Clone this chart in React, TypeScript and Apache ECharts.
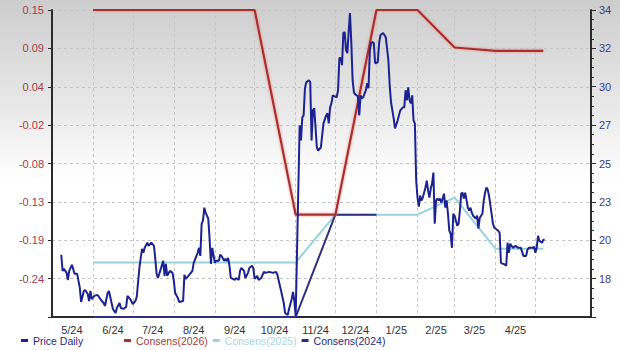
import React, { useEffect, useRef } from 'react';
import * as echarts from 'echarts';

const priceDates = [
  '2024-05-08','2024-05-09','2024-05-10','2024-05-12','2024-05-13','2024-05-14','2024-05-16','2024-05-17','2024-05-18','2024-05-20',
  '2024-05-21','2024-05-22','2024-05-23','2024-05-25','2024-05-26','2024-05-28','2024-05-29','2024-05-30','2024-05-31',
  '2024-06-02','2024-06-04','2024-06-05','2024-06-07','2024-06-09','2024-06-10','2024-06-12','2024-06-13','2024-06-15','2024-06-16',
  '2024-06-18','2024-06-19','2024-06-21','2024-06-22','2024-06-24','2024-06-26','2024-06-27','2024-06-29',
  '2024-07-01','2024-07-03','2024-07-04','2024-07-06','2024-07-07','2024-07-08','2024-07-09','2024-07-10','2024-07-12','2024-07-13',
  '2024-07-15','2024-07-17','2024-07-18','2024-07-19','2024-07-20','2024-07-21','2024-07-24','2024-07-25','2024-07-26','2024-07-27',
  '2024-07-29','2024-07-31',
  '2024-08-01','2024-08-02','2024-08-04','2024-08-05','2024-08-08','2024-08-09','2024-08-10','2024-08-12','2024-08-15','2024-08-16',
  '2024-08-19','2024-08-20','2024-08-21','2024-08-22','2024-08-23','2024-08-24','2024-08-25','2024-08-27','2024-08-28','2024-08-29',
  '2024-08-30',
  '2024-09-01','2024-09-02','2024-09-04','2024-09-05','2024-09-06','2024-09-08','2024-09-09','2024-09-10','2024-09-11','2024-09-12',
  '2024-09-13','2024-09-16','2024-09-17','2024-09-19','2024-09-20','2024-09-21','2024-09-23','2024-09-24','2024-09-26','2024-09-27',
  '2024-09-29','2024-09-30',
  '2024-10-01','2024-10-03','2024-10-04','2024-10-06','2024-10-08','2024-10-09','2024-10-12','2024-10-15','2024-10-17','2024-10-18',
  '2024-10-21','2024-10-23','2024-10-24','2024-10-26','2024-10-27','2024-10-29','2024-10-30','2024-10-31',
  '2024-11-01','2024-11-04','2024-11-05','2024-11-06','2024-11-07','2024-11-08','2024-11-09','2024-11-11','2024-11-12','2024-11-13',
  '2024-11-14','2024-11-15','2024-11-16','2024-11-17','2024-11-18','2024-11-20','2024-11-21','2024-11-22','2024-11-24','2024-11-25',
  '2024-11-26','2024-11-27','2024-11-28','2024-11-29',
  '2024-12-02','2024-12-03','2024-12-04','2024-12-05','2024-12-06','2024-12-07','2024-12-08','2024-12-09','2024-12-10','2024-12-11',
  '2024-12-12','2024-12-13','2024-12-14','2024-12-15','2024-12-16','2024-12-18','2024-12-19','2024-12-20','2024-12-21','2024-12-22',
  '2024-12-24','2024-12-25','2024-12-26','2024-12-27','2024-12-28','2024-12-29','2024-12-30','2024-12-31',
  '2025-01-02','2025-01-03','2025-01-04','2025-01-06','2025-01-07','2025-01-08','2025-01-10','2025-01-11','2025-01-12','2025-01-13',
  '2025-01-14','2025-01-15','2025-01-17','2025-01-19','2025-01-21','2025-01-22','2025-01-23','2025-01-24','2025-01-25','2025-01-26',
  '2025-01-27','2025-01-28','2025-01-29','2025-01-30','2025-01-31',
  '2025-02-01','2025-02-02','2025-02-03','2025-02-04','2025-02-05','2025-02-07','2025-02-08','2025-02-09','2025-02-10','2025-02-11',
  '2025-02-12','2025-02-13','2025-02-14','2025-02-15','2025-02-16','2025-02-17','2025-02-18','2025-02-19','2025-02-20','2025-02-21',
  '2025-02-22','2025-02-23','2025-02-24','2025-02-25','2025-02-26','2025-02-27','2025-02-28',
  '2025-03-01','2025-03-02','2025-03-03','2025-03-04','2025-03-05','2025-03-06','2025-03-07','2025-03-08','2025-03-09','2025-03-11',
  '2025-03-12','2025-03-13','2025-03-14','2025-03-15','2025-03-17','2025-03-18','2025-03-19','2025-03-20','2025-03-22','2025-03-23',
  '2025-03-24','2025-03-25','2025-03-26','2025-03-27','2025-03-30','2025-03-31',
  '2025-04-03','2025-04-04','2025-04-05','2025-04-06','2025-04-07','2025-04-09','2025-04-10','2025-04-11','2025-04-12','2025-04-14',
  '2025-04-16','2025-04-18','2025-04-20','2025-04-22','2025-04-24','2025-04-25','2025-04-26','2025-04-29','2025-04-30',
  '2025-05-01','2025-05-02','2025-05-03','2025-05-04','2025-05-06','2025-05-07','2025-05-08'
];

const priceValues = [
  19.44,18.46,18.58,18.34,17.91,18.46,18.83,18.58,18.28,18.28,
  17.85,17.43,16.57,17.24,17.30,17.06,16.63,17.24,16.75,
  16.94,17.00,16.94,16.69,16.51,16.33,17.12,17.24,16.51,16.15,
  15.90,16.21,16.51,16.21,16.15,16.27,16.94,16.75,
  16.45,16.63,16.88,18.64,19.25,19.80,19.56,19.86,20.17,19.98,
  20.17,19.98,19.19,18.28,18.03,18.28,19.07,18.16,18.89,18.16,
  18.46,18.34,
  17.85,17.12,16.82,16.57,16.63,18.22,17.97,18.16,18.46,18.95,
  19.56,19.86,19.37,21.32,21.51,22.30,22.00,21.63,20.41,18.89,
  19.86,
  18.95,19.07,19.07,19.44,19.37,19.07,19.19,19.07,19.25,18.77,
  18.03,17.91,18.03,17.91,18.46,18.64,18.46,18.03,18.34,18.64,
  18.77,18.64,
  17.97,18.16,17.91,18.03,18.40,18.34,18.40,18.34,18.40,18.28,
  17.24,16.51,15.90,15.78,16.15,16.75,17.18,16.63,
  15.72,27.29,26.38,27.78,27.90,29.55,29.91,30.04,29.91,26.38,
  28.21,28.33,27.17,25.95,25.77,25.95,26.69,27.42,27.90,28.03,
  27.42,28.39,28.63,29.12,
  29.00,29.43,31.38,31.38,30.95,32.90,32.96,31.86,31.68,32.96,
  34.12,32.35,30.04,29.30,29.18,29.06,27.90,29.12,28.94,29.00,
  29.43,29.85,29.55,31.86,32.29,32.35,32.29,31.07,
  31.13,32.29,32.78,32.90,32.78,32.66,31.25,29.73,28.70,28.21,
  27.72,27.11,27.60,28.21,28.39,28.39,29.43,28.82,29.61,28.82,
  28.63,29.12,27.60,27.42,23.94,
  22.91,22.36,23.03,22.73,22.91,23.52,23.94,23.33,22.91,23.46,
  23.76,24.43,21.32,22.73,22.85,22.73,22.85,22.60,22.85,23.15,
  22.30,22.73,21.93,20.90,20.72,19.86,21.93,
  21.81,21.51,21.20,21.32,22.12,23.15,23.21,22.85,23.21,22.30,
  22.12,22.30,21.99,21.81,21.63,21.81,21.02,21.69,21.93,22.73,
  23.21,23.52,23.40,23.03,21.32,21.08,
  20.90,20.77,18.95,18.89,18.89,18.77,20.17,19.56,20.11,19.86,
  19.98,19.86,19.86,19.37,19.37,19.74,19.86,19.86,19.92,
  19.56,19.86,20.59,20.29,20.17,20.35,20.35
];

const consDates = ['2024-06-01','2024-07-01','2024-08-01','2024-09-01','2024-10-01','2024-11-01','2024-12-01','2025-01-01','2025-02-01','2025-03-01','2025-04-01','2025-05-07'];
const cons2026 = [0.15, 0.15, 0.15, 0.15, 0.15, -0.15, -0.15, 0.15, 0.15, 0.095, 0.09, 0.09];
const cons2025 = [-0.22, -0.22, -0.22, -0.22, -0.22, -0.22, -0.15, -0.15, -0.15, -0.125, -0.20, -0.20];
const cons2024 = [-0.30, -0.30, -0.30, -0.30, -0.30, -0.30, -0.15, -0.15, null, null, null, null];

const leftTickLabels = ['', '-0.24', '-0.19', '-0.13', '-0.08', '-0.02', '0.04', '0.09', '0.15'];
const rightTickLabels = ['', '18', '20', '23', '25', '27', '30', '32', '34'];
const monthTickDates = ['2024-06-01','2024-07-01','2024-08-01','2024-09-01','2024-10-01','2024-11-01','2024-12-01','2025-01-01','2025-02-01','2025-03-01','2025-04-01','2025-05-01'];
const monthLabelDates = ['2024-05-16','2024-06-16','2024-07-16','2024-08-16','2024-09-16','2024-10-16','2024-11-16','2024-12-16','2025-01-16','2025-02-15','2025-03-16','2025-04-16'];
const monthLabels = ['5/24','6/24','7/24','8/24','9/24','10/24','11/24','12/24','1/25','2/25','3/25','4/25'];
const xStart = '2024-05-01';
const xEnd = '2025-06-12';

const ts = (s: string) => {
  const [y, m, d] = s.split('-').map(Number);
  return new Date(y, m - 1, d).getTime();
};

const LEFT_MIN = -0.30, LEFT_MAX = 0.15, LEFT_INT = 0.05625;
const RIGHT_MIN = 15.66, RIGHT_MAX = 34.3, RIGHT_INT = 2.33;
const FONT = 'Liberation Sans, Arial, sans-serif';

export default function App() {
  const ref = useRef<HTMLDivElement>(null);
  useEffect(() => {
    document.body.style.margin = '0';
    const chart = echarts.init(ref.current!, null, { renderer: 'svg' });
    const labelTs = monthLabelDates.map(ts);
    const option: any = {
      animation: false,
      backgroundColor: 'transparent',
      grid: { left: 52, right: 29, top: 10, bottom: 33, containLabel: false },
      legend: [
        {
          left: 16, top: 330, itemWidth: 7, itemHeight: 3, icon: 'rect', itemGap: 6,
          textStyle: { fontFamily: FONT, fontSize: 10.5 },
          data: [{ name: 'Price Daily', textStyle: { color: '#1e2a7e' } }],
        },
        {
          left: 119, top: 330, itemWidth: 7, itemHeight: 3, icon: 'rect', itemGap: 5,
          textStyle: { fontFamily: FONT, fontSize: 10.5 },
          data: [
            { name: 'Consens(2026)', textStyle: { color: '#a83a3a' } },
            { name: 'Consens(2025)', textStyle: { color: '#a6d6df' } },
            { name: 'Consens(2024)', textStyle: { color: '#1e2a7e' } },
          ],
        },
      ],
      xAxis: {
        type: 'value',
        min: ts(xStart),
        max: ts(xEnd),
        axisLine: { show: true, onZero: false, lineStyle: { color: '#2b2b2b', width: 2 } },
        axisTick: { show: false, customValues: monthTickDates.map(ts) },
        splitLine: { show: true, lineStyle: { color: '#c4c4c4', type: [3, 3], width: 1 } },
        axisLabel: {
          customValues: labelTs,
          color: '#333', fontFamily: FONT, fontSize: 11, margin: 7,
          formatter: (v: number) => {
            let best = -1, bd = Infinity;
            labelTs.forEach((t, i) => { const d = Math.abs(t - v); if (d < bd) { bd = d; best = i; } });
            return bd < 2 * 86400000 ? monthLabels[best] : '';
          },
        },
      },
      yAxis: [
        {
          type: 'value', position: 'left', min: LEFT_MIN, max: LEFT_MAX, interval: LEFT_INT,
          axisLine: { show: true, onZero: false, lineStyle: { color: '#2b2b2b', width: 2 } },
          axisTick: { show: true, length: 4, lineStyle: { color: '#2b2b2b' } },
          axisLabel: {
            color: '#9e3c4c', fontFamily: FONT, fontSize: 11, margin: 8,
            formatter: (v: number) => leftTickLabels[Math.round((v - LEFT_MIN) / LEFT_INT)] ?? '',
          },
          splitLine: { show: true, lineStyle: { color: '#c4c4c4', type: [3, 3], width: 1 } },
        },
        {
          type: 'value', position: 'right', min: RIGHT_MIN, max: RIGHT_MAX, interval: RIGHT_INT,
          axisLine: { show: true, onZero: false, lineStyle: { color: '#2b2b2b', width: 2 } },
          axisTick: { show: true, length: 5, lineStyle: { color: '#2b2b2b' } },
          minorTick: { show: true, splitNumber: 4, length: 3, lineStyle: { color: '#2b2b2b' } },
          axisLabel: {
            color: '#3c3c86', fontFamily: FONT, fontSize: 11, margin: 8,
            formatter: (v: number) => rightTickLabels[Math.round((v - RIGHT_MIN) / RIGHT_INT)] ?? '',
          },
          splitLine: { show: false },
        },
      ],
      series: [
        {
          name: 'Consens(2025)', type: 'line', yAxisIndex: 0, showSymbol: false, z: 2,
          data: consDates.map((d, i) => [ts(d), cons2025[i]]),
          lineStyle: { color: '#98d2dc', width: 2 }, itemStyle: { color: '#98d2dc' },
        },
        {
          name: 'Consens(2024)', type: 'line', yAxisIndex: 0, showSymbol: false, z: 3,
          data: consDates.map((d, i) => [ts(d), cons2024[i]]),
          lineStyle: { color: '#2a2f82', width: 2 }, itemStyle: { color: '#2a2f82' },
        },
        {
          name: 'Consens(2026)', type: 'line', yAxisIndex: 0, showSymbol: false, z: 3,
          data: consDates.map((d, i) => [ts(d), cons2026[i]]),
          lineStyle: { color: '#a92e2e', width: 2.2, shadowColor: 'rgba(240,120,120,0.8)', shadowBlur: 3 },
          itemStyle: { color: '#a92e2e' },
        },
        {
          name: 'Price Daily', type: 'line', yAxisIndex: 1, showSymbol: false, z: 5,
          data: priceDates.map((d, i) => [ts(d), priceValues[i]]),
          lineStyle: { color: '#1c2290', width: 2 }, itemStyle: { color: '#1c2290' },
        },
      ],
    };
    chart.setOption(option);
    return () => chart.dispose();
  }, []);
  return (
    <div
      ref={ref}
      style={{
        width: 620, height: 350, position: 'absolute', left: 0, top: 0,
        background: 'linear-gradient(to bottom, #cdcdcd 0px, #e9e9e9 110px, #ffffff 180px, #ffffff 350px)',
      }}
    />
  );
}
